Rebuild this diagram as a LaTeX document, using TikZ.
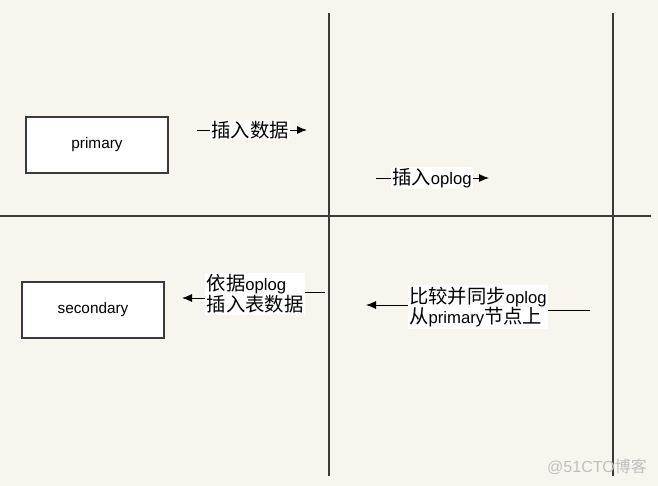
\documentclass[tikz,border=0pt]{standalone}
\usepackage{fontspec}
\setmainfont{Liberation Sans}
\newfontfamily\cjk{Noto Sans CJK SC}
\usetikzlibrary{arrows.meta}
\definecolor{paper}{HTML}{F8F5EE}
\definecolor{rule}{HTML}{3A3A3A}
\newcommand{\lat}[1]{{\fontspec{Liberation Sans}\fontsize{12.5}{14}\selectfont #1}}
\tikzset{
	server/.style={draw=rule, fill=white, line width=1pt, minimum width=106.5pt, minimum height=42pt, font=\fontsize{11.5}{13}\selectfont},
	divider/.style={draw=rule, line width=1.4pt},
	step note/.style={fill=white, inner sep=1pt, align=left, font=\cjk\fontsize{14.5}{15.5}\selectfont},
	link/.style={draw=black, line width=0.7pt},
	push/.style={link, -{Latex[length=7.5pt,width=6pt]}}
}

\begin{document}
\begin{tikzpicture}[x=0.75pt, y=-0.75pt]
	\fill[paper] (0, 0) rectangle (658, 486);
	\useasboundingbox (0, 0) rectangle (658, 486);

	% quadrants
	\draw[divider] (0, 216) -- (651, 216);
	\draw[divider] (329, 13) -- (329, 476);
	\draw[divider] (613, 13) -- (613, 476);

	\node[server] (primary)   at (97, 145)  {primary};
	\node[server] (secondary) at (93, 310)  {secondary};

	% primary side
	\node[step note] (insert)    at (250, 130) {插入数据};
	\coordinate (insertL) at (197, 130);
	\coordinate (insertR) at (307, 130);
	\draw[link] (insertL) -- (insert);
	\draw[push] (insert) -- (insertR);

	\node[step note] (insertlog) at (432, 178) {插入\lat{oplog}};
	\coordinate (insertlogL) at (376, 178);
	\coordinate (insertlogR) at (489, 178);
	\draw[link] (insertlogL) -- (insertlog);
	\draw[push] (insertlog) -- (insertlogR);

	% secondary side
	\node[step note] (apply) at (255, 294) {依据\lat{oplog}\\插入表数据};
	\coordinate (applyR) at (325, 292);
	\coordinate (applyL) at (182, 298);
	\draw[link] (applyR) -- (apply.east |- applyR);
	\draw[push] (apply.west |- applyL) -- (applyL);

	\node[step note] (sync) at (478, 307) {比较并同步\lat{oplog}\\从\lat{primary}节点上};
	\coordinate (syncR) at (590, 310);
	\coordinate (syncL) at (366, 305);
	\draw[link] (syncR) -- (sync.east |- syncR);
	\draw[push] (sync.west |- syncL) -- (syncL);

	\node[text=black!25, font=\fontsize{12}{14}\selectfont] (mark) at (597, 467) {@51CTO{\cjk 博客}};
\end{tikzpicture}
\end{document}
